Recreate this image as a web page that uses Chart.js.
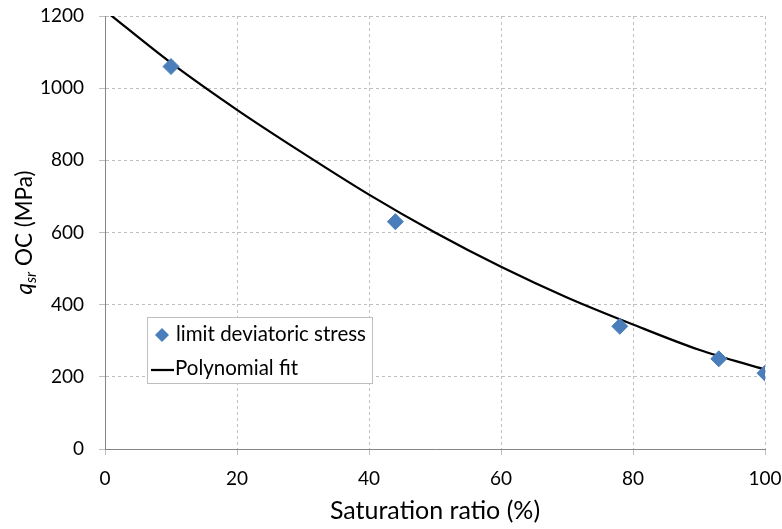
<!DOCTYPE html>
<html>
<head>
<meta charset="utf-8">
<script src="https://cdn.jsdelivr.net/npm/chart.js@4/dist/chart.umd.min.js"></script>
<style>
  body { margin: 0; background: #fff; }
  canvas { display: block; }
</style>
</head>
<body>
<canvas id="chart" width="782" height="529"></canvas>
<script>
// measured points
const saturation = [10, 44, 78, 93, 100];
const deviatoricStress = [1060, 630, 340, 250, 210];

// fit curve
const fitX = [0, 10, 20, 30, 40, 50, 60, 70, 80, 90, 100];
const fitY = [1215, 1070, 940, 820, 705, 600, 505, 420, 345, 275, 220];

const xTicks = [0, 20, 40, 60, 80, 100];
const yTicks = [0, 200, 400, 600, 800, 1000, 1200];

const FONT = "Lato, 'Liberation Sans', sans-serif";
const markerColor = "#4a7ebb";

const gridStyle = {
    color: "#bfbfbf",
    lineWidth: 1,
    tickLength: 6,
    drawTicks: true
};
const borderStyle = { display: true, color: "#868686", width: 1, dash: [3, 3] };

// y title with italic q and subscript "sr", plus legend box inside the plot
const extras = {
    id: "extras",
    afterDraw(chart) {
        const ctx = chart.ctx;
        const area = chart.chartArea;
        ctx.save();

        // y axis title
        ctx.translate(24, (area.top + area.bottom) / 2);
        ctx.rotate(-Math.PI / 2);
        ctx.fillStyle = "#000";
        ctx.textBaseline = "alphabetic";
        const parts = [
            { t: "q", f: "italic 22.5px " + FONT, dy: 0 },
            { t: "sr", f: "italic 15px " + FONT, dy: 4 },
            { t: " OC (MPa)", f: "22.5px " + FONT, dy: 0 }
        ];
        let total = 0;
        parts.forEach(p => { ctx.font = p.f; total += ctx.measureText(p.t).width; });
        let x = -total / 2;
        parts.forEach(p => {
            ctx.font = p.f;
            ctx.fillText(p.t, x, 8 + p.dy);
            x += ctx.measureText(p.t).width;
        });
        ctx.restore();

        // legend
        ctx.save();
        const lx = 147, ly = 317, lw = 225, lh = 66;
        ctx.fillStyle = "#fff";
        ctx.fillRect(lx, ly, lw, lh);
        ctx.strokeStyle = "#bfbfbf";
        ctx.lineWidth = 1;
        ctx.strokeRect(lx + 0.5, ly + 0.5, lw, lh);

        const names = chart.data.datasets.map(d => d.label);
        ctx.font = "20.5px " + FONT;
        ctx.textBaseline = "middle";

        // diamond
        const cx = 162, cy = 335, r = 7;
        ctx.fillStyle = markerColor;
        ctx.beginPath();
        ctx.moveTo(cx, cy - r);
        ctx.lineTo(cx + r, cy);
        ctx.lineTo(cx, cy + r);
        ctx.lineTo(cx - r, cy);
        ctx.closePath();
        ctx.fill();
        ctx.fillStyle = "#000";
        ctx.fillText(names[0], 176, 334);

        // line
        ctx.strokeStyle = "#000";
        ctx.lineWidth = 2.25;
        ctx.beginPath();
        ctx.moveTo(151, 370);
        ctx.lineTo(174, 370);
        ctx.stroke();
        ctx.fillText(names[1], 175, 368);
        ctx.restore();
    }
};

new Chart(document.getElementById("chart"), {
    type: "scatter",
    data: {
        datasets: [
            {
                label: "limit deviatoric stress",
                data: saturation.map((s, i) => ({ x: s, y: deviatoricStress[i] })),
                backgroundColor: markerColor,
                borderColor: markerColor,
                pointStyle: "rectRot",
                pointRadius: 8,
                pointHoverRadius: 8,
                order: 1
            },
            {
                label: "Polynomial fit",
                type: "line",
                data: fitX.map((s, i) => ({ x: s, y: fitY[i] })),
                borderColor: "#000",
                borderWidth: 2.25,
                pointRadius: 0,
                fill: false,
                cubicInterpolationMode: "monotone",
                clip: 0,
                order: 2
            }
        ]
    },
    options: {
        responsive: false,
        animation: false,
        layout: { padding: { top: 16, right: 17, left: 0, bottom: 0 } },
        plugins: {
            legend: { display: false },
            tooltip: { enabled: false }
        },
        scales: {
            x: {
                type: "linear",
                min: 0,
                max: 100,
                afterBuildTicks: s => { s.ticks = xTicks.map(v => ({ value: v })); },
                afterFit: s => { s.height = 80; s.paddingLeft = 0; s.paddingRight = 0; },
                grid: gridStyle,
                border: borderStyle,
                ticks: { color: "#000", font: { family: FONT, size: 19 }, padding: 12, callback: v => String(v) },
                title: {
                    display: true,
                    text: "Saturation ratio (%)",
                    color: "#000",
                    font: { family: FONT, size: 25 },
                    padding: { top: 2, bottom: 3 }
                }
            },
            y: {
                type: "linear",
                min: 0,
                max: 1200,
                afterBuildTicks: s => { s.ticks = yTicks.map(v => ({ value: v })); },
                afterFit: s => { s.width = 105; s.paddingTop = 0; s.paddingBottom = 0; },
                grid: gridStyle,
                border: borderStyle,
                ticks: { color: "#000", font: { family: FONT, size: 19 }, padding: 15, callback: v => String(v) }
            }
        }
    },
    plugins: [extras]
});
</script>
</body>
</html>
